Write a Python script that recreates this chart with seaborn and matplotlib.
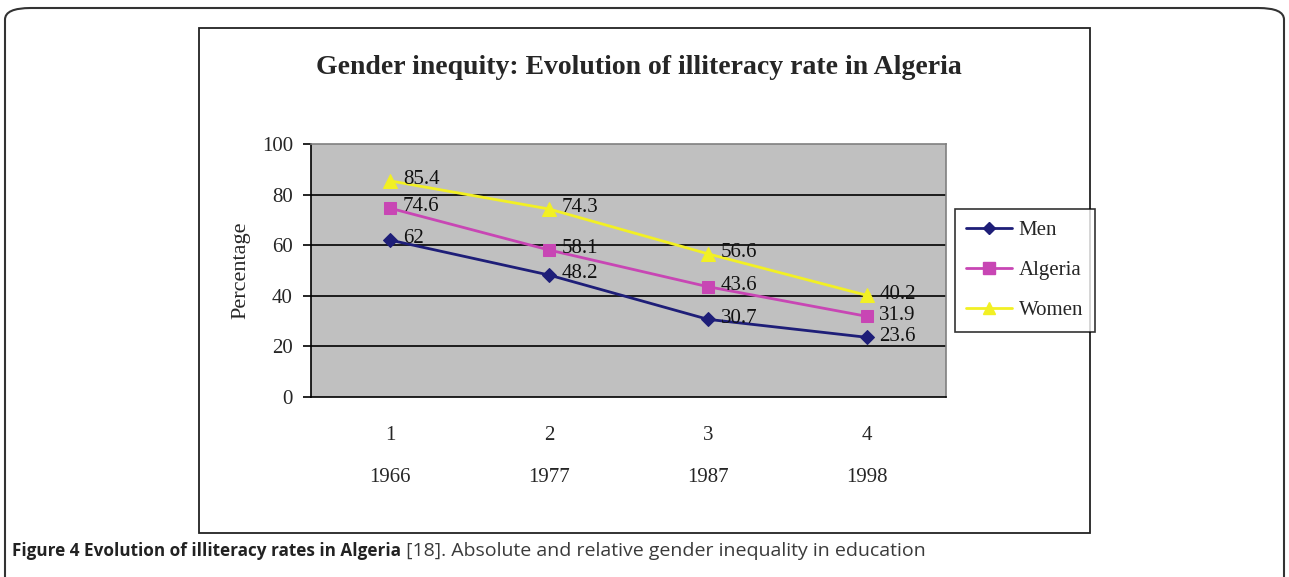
import matplotlib
matplotlib.use("Agg")
import matplotlib.pyplot as plt
import numpy as np
import pandas as pd
import seaborn as sns
from matplotlib.patches import FancyBboxPatch, Rectangle
from matplotlib.lines import Line2D

# data
periods = [1, 2, 3, 4]
years = ["1966", "1977", "1987", "1998"]
series_names = ["Men", "Algeria", "Women"]
men = [62, 48.2, 30.7, 23.6]
algeria = [74.6, 58.1, 43.6, 31.9]
women = [85.4, 74.3, 56.6, 40.2]

colors = {"Men": "#1E1E78", "Algeria": "#C846B4", "Women": "#F2F024"}
markers = {"Men": "D", "Algeria": "s", "Women": "^"}
msizes = {"Men": 7, "Algeria": 9, "Women": 10}

df = pd.DataFrame({
    "period": periods * 3,
    "value": men + algeria + women,
    "series": ["Men"] * 4 + ["Algeria"] * 4 + ["Women"] * 4,
})

sns.set_theme(style="white")
plt.rcParams["font.family"] = ["Liberation Serif", "DejaVu Serif"]

W, H = 1289, 577
fig = plt.figure(figsize=(W / 100, H / 100), dpi=100)


def fx(px):
    return px / W


def fy(py):
    return 1 - py / H


# outer rounded panel
fig.patches.append(FancyBboxPatch((fx(5), fy(620)), fx(1279), fy(8) - fy(620),
                                  boxstyle="round,pad=0,rounding_size=0.02",
                                  transform=fig.transFigure, fill=False,
                                  edgecolor="#333333", linewidth=1.5))
# inner chart frame
fig.patches.append(Rectangle((fx(199), fy(533)), fx(891), fy(28) - fy(533),
                             transform=fig.transFigure, fill=False,
                             edgecolor="#222222", linewidth=1.3))

ax = fig.add_axes([fx(311), fy(397), fx(946) - fx(311), fy(144) - fy(397)])
ax.set_facecolor("#C0C0C0")

for name in series_names:
    sub = df[df["series"] == name]
    sns.lineplot(data=sub, x="period", y="value", color=colors[name],
                 marker=markers[name], markersize=msizes[name],
                 markeredgecolor=colors[name], linewidth=2, ax=ax, legend=False)
    for xv, yv in zip(sub["period"], sub["value"]):
        ax.text(xv + 0.08, yv + 0.5, f"{yv:g}", fontsize=15, color="#111111",
                ha="left", va="center")

ax.set_xlim(0.5, 4.5)
ax.set_ylim(0, 100)
ax.set_yticks(range(0, 101, 20))
ax.set_yticklabels([str(v) for v in range(0, 101, 20)], fontsize=15)
for v in range(20, 100, 20):
    ax.axhline(v, color="black", linewidth=1.2, zorder=1)

ax.set_xticks(periods)
ax.set_xticklabels([f"{p}\n\n{y}" for p, y in zip(periods, years)],
                   fontsize=15, linespacing=1.15)
ax.set_xticks(np.arange(0.5, 4.6, 1), minor=True)
ax.tick_params(axis="x", which="major", length=0, pad=21)
ax.tick_params(axis="x", which="minor", length=7, width=1.2, color="black", direction="out")
ax.tick_params(axis="y", length=6, width=1.2, color="black", direction="out", left=True, pad=7)
ax.set_xlabel("")
ax.set_ylabel("Percentage", fontsize=16, labelpad=8)

for side in ["top", "right"]:
    ax.spines[side].set_color("#808080")
    ax.spines[side].set_linewidth(1.2)
for side in ["left", "bottom"]:
    ax.spines[side].set_color("black")
    ax.spines[side].set_linewidth(1.2)

handles = [Line2D([0], [0], color=colors[n], marker=markers[n], markersize=msizes[n] - 1,
                  linewidth=2, markeredgecolor=colors[n]) for n in series_names]
leg = fig.legend(handles, series_names, loc="upper left",
                 bbox_to_anchor=(fx(955), fy(209)), frameon=True, fancybox=False,
                 fontsize=15, handlelength=2.2, handletextpad=0.3,
                 labelspacing=0.98, borderpad=0.55, borderaxespad=0)
leg.get_frame().set_edgecolor("black")
leg.get_frame().set_linewidth(1.2)

fig.text(fx(639), fy(67), "Gender inequity: Evolution of illiteracy rate in Algeria",
         ha="center", va="center", fontsize=20, fontweight="bold")

cap_family = ["Open Sans", "DejaVu Sans"]
t1 = fig.text(fx(12), fy(551), "Figure 4 Evolution of illiteracy rates in Algeria",
              ha="left", va="center", fontsize=12.3, fontweight="bold", family=cap_family,
              color="#222222")
fig.canvas.draw()
bb = t1.get_window_extent()
fig.text(bb.x1 / W, fy(551), " [18]. Absolute and relative gender inequality in education",
         ha="left", va="center", fontsize=14, family=cap_family, color="#3a3a3a")

fig.savefig("out.png", dpi=100)
